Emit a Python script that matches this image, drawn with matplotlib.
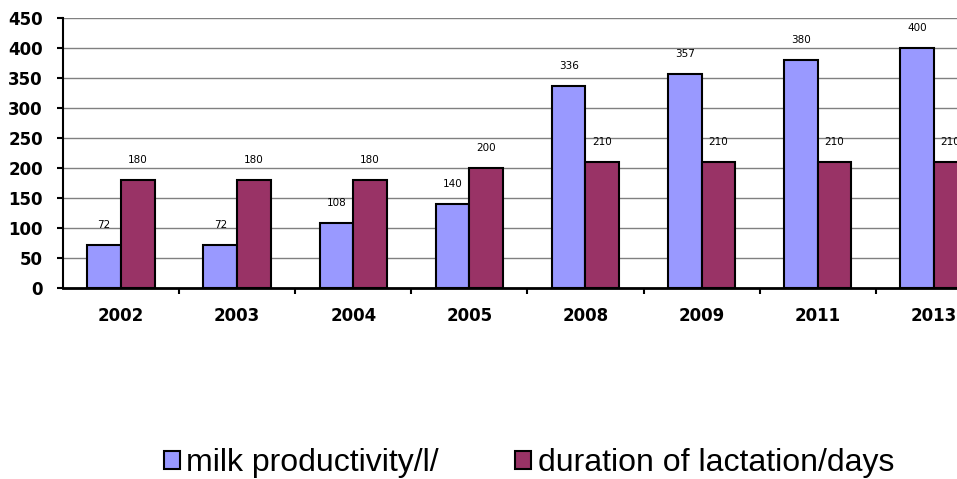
import matplotlib
matplotlib.use("Agg")
import matplotlib.pyplot as plt
import numpy as np
from matplotlib.patches import Patch

years = ["2002", "2003", "2004", "2005", "2008", "2009", "2011", "2013"]
milk = [72, 72, 108, 140, 336, 357, 380, 400]
lactation = [180, 180, 180, 200, 210, 210, 210, 210]
series_names = ["milk productivity/l/", "duration of lactation/days"]
yticks = [0, 50, 100, 150, 200, 250, 300, 350, 400, 450]

blue = "#9999FF"
red = "#993366"

fig = plt.figure(figsize=(9.57, 4.79), dpi=100)
ax = fig.add_axes([63/957, 1-288/479, 8*116.1/957, 270/479])

x = np.arange(len(years))
w = 0.29
ax.bar(x - w/2, milk, w, color=blue, edgecolor="black", linewidth=1.5, zorder=3)
ax.bar(x + w/2, lactation, w, color=red, edgecolor="black", linewidth=1.5, zorder=3)

for xi, v in zip(x, milk):
    ax.annotate(str(v), (xi - w/2, v), xytext=(0, 14.5), textcoords="offset points",
                ha="center", va="center", fontsize=7.5, zorder=4)
for xi, v in zip(x, lactation):
    ax.annotate(str(v), (xi + w/2, v), xytext=(0, 14.5), textcoords="offset points",
                ha="center", va="center", fontsize=7.5, zorder=4)

ax.set_xlim(-0.5, len(years) - 0.5)
ax.set_ylim(0, 450)
ax.set_yticks(yticks)
ax.set_yticklabels([str(t) for t in yticks], fontsize=12, fontweight="bold")
ax.yaxis.grid(True, color="#808080", linewidth=1.0, zorder=0)
ax.set_axisbelow(True)

ax.set_xticks(x)
ax.set_xticklabels(years, fontsize=12, fontweight="bold")
ax.tick_params(axis="x", which="major", length=0, pad=14)
ax.set_xticks(np.arange(len(years)) + 0.5, minor=True)
ax.tick_params(axis="x", which="minor", length=4, width=1.5, direction="out")
ax.tick_params(axis="y", length=4.5, width=1.5, direction="out", pad=10)

for s in ["top", "right"]:
    ax.spines[s].set_visible(False)
ax.spines["left"].set_linewidth(1.5)
ax.spines["bottom"].set_linewidth(2)

handles = [Patch(facecolor=blue, edgecolor="black", linewidth=1.5),
           Patch(facecolor=red, edgecolor="black", linewidth=1.5)]
fig.legend(handles, series_names, loc="center", bbox_to_anchor=(529/957, 1-463/479),
           ncol=2, frameon=False, handlelength=0.5, handleheight=0.5,
           handletextpad=0.2, columnspacing=2.4, borderpad=0, borderaxespad=0,
           prop={"family": ["Liberation Sans", "DejaVu Sans"], "size": 23})

fig.savefig("out.png", dpi=100)
